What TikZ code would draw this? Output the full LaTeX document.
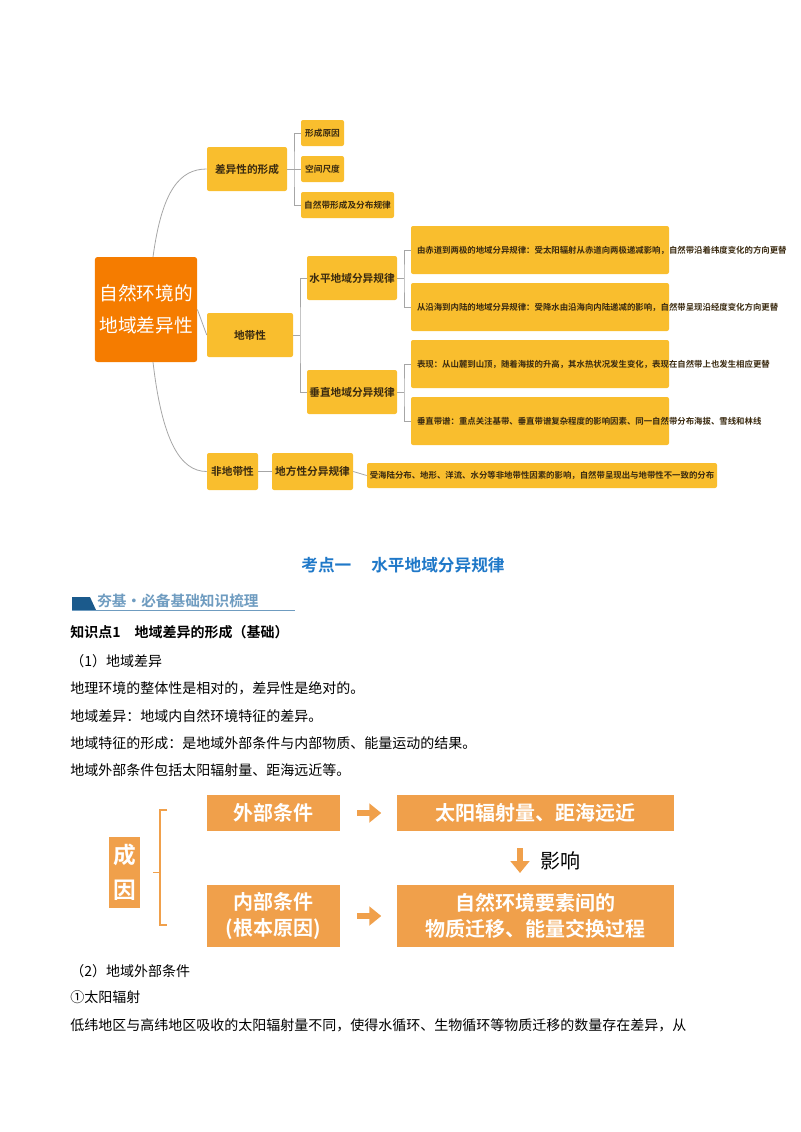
\documentclass[tikz,border=0pt]{standalone}
\usepackage{fontspec}
\setmainfont{Noto Sans CJK SC}
\newfontfamily\cjkb{Noto Sans CJK SC Bold}
\usetikzlibrary{arrows.meta}
\definecolor{yel}{HTML}{F9BE2E}
\definecolor{org}{HTML}{F57C00}
\definecolor{lor}{HTML}{F0A04B}
\definecolor{ttl}{HTML}{1F78C8}
\definecolor{ban}{HTML}{1B5A8C}
\definecolor{bant}{HTML}{6F9CC0}
\definecolor{txt}{HTML}{3A2A10}
\tikzset{
 yb/.style={fill=yel,rounded corners=1.5pt,inner sep=0pt,font=\cjkb\fontsize{8}{9}\selectfont,text=txt},
 ob/.style={fill=lor,inner sep=0pt,font=\cjkb\fontsize{15}{19}\selectfont,text=white,align=center},
 gl/.style={draw=gray!70,line width=0.6pt},
 bt/.style={anchor=west,font=\fontsize{10.5}{12}\selectfont,inner sep=0pt},
}
\begin{document}
\begin{tikzpicture}[x=0.75pt,y=-0.75pt]
\useasboundingbox (0,0) rectangle (800,1132);
% mind map
\node[fill=org,rounded corners=2pt,minimum width=102*0.75pt,minimum height=105*0.75pt,text=white,font=\fontsize{14}{24}\selectfont,align=center] (root) at (146,309.5) {自然环境的\\地域差异性};
\node[yb,minimum width=80*0.75pt,minimum height=44*0.75pt] (cy) at (247,169) {差异性的形成};
\node[yb,minimum width=43*0.75pt,minimum height=26*0.75pt,font=\cjkb\fontsize{6.5}{8}\selectfont] (c1) at (322.5,133) {形成原因};
\node[yb,minimum width=43*0.75pt,minimum height=26*0.75pt,font=\cjkb\fontsize{6.5}{8}\selectfont] (c2) at (322.5,169) {空间尺度};
\node[yb,minimum width=93*0.75pt,minimum height=26*0.75pt,font=\cjkb\fontsize{6.5}{8}\selectfont] (c3) at (347.5,205) {自然带形成及分布规律};
\node[yb,minimum width=86*0.75pt,minimum height=44*0.75pt] (dd) at (250,335) {地带性};
\node[yb,minimum width=90*0.75pt,minimum height=44*0.75pt] (sp) at (352,278) {水平地域分异规律};
\node[yb,minimum width=90*0.75pt,minimum height=44*0.75pt] (cz) at (352,392) {垂直地域分异规律};
\tikzset{lb/.style={yb,minimum width=258*0.75pt,minimum height=48*0.75pt,text width=246*0.75pt,align=left,font=\cjkb\fontsize{6.3}{13}\selectfont}}
\node[lb] (t1) at (540,250) {由赤道到两极的地域分异规律：受太阳辐射从赤道向两极递减影响，自然带沿着纬度变化的方向更替};
\node[lb] (t2) at (540,307) {从沿海到内陆的地域分异规律：受降水由沿海向内陆递减的影响，自然带呈现沿经度变化方向更替};
\node[lb] (t3) at (540,364) {表现：从山麓到山顶，随着海拔的升高，其水热状况发生变化，表现在自然带上也发生相应更替};
\node[lb] (t4) at (540,421) {垂直带谱：重点关注基带、垂直带谱复杂程度的影响因素、同一自然带分布海拔、雪线和林线};
\node[yb,minimum width=51*0.75pt,minimum height=37*0.75pt] (fd) at (232.5,471.5) {非地带性};
\node[yb,minimum width=81*0.75pt,minimum height=37*0.75pt] (df) at (312.5,471.5) {地方性分异规律};
\node[yb,minimum width=350*0.75pt,minimum height=25*0.75pt,font=\cjkb\fontsize{6.3}{8}\selectfont] (lf) at (542,475.5) {受海陆分布、地形、洋流、水分等非地带性因素的影响，自然带呈现出与地带性不一致的分布};
% connectors
\coordinate (rt) at (153,257); \coordinate (rb) at (153,362);
\draw[gl] (rt) .. controls (162,190) and (180,169) .. (cy.west);
\draw[gl] (rb) .. controls (162,440) and (180,471.5) .. (fd.west);
\draw[gl] (root.east) -- (dd.west);
\coordinate (j1) at (294,169);
\draw[gl] (cy.east) -- (j1);
\draw[gl] (c1.west) -| (j1) |- (c3.west); \draw[gl] (j1) -- (c2.west);
\coordinate (j2) at (300,335);
\draw[gl] (dd.east) -- (j2); \draw[gl] (sp.west) -| (j2) |- (cz.west);
\coordinate (j3) at (404,278); \coordinate (j4) at (404,392);
\draw[gl] (sp.east) -- (j3); \draw[gl] (t1.west) -| (j3) |- (t2.west);
\draw[gl] (cz.east) -- (j4); \draw[gl] (t3.west) -| (j4) |- (t4.west);
\draw[gl] (fd.east) -- (df.west); \draw[gl] (df.east) -- (lf.west);
% heading
\node[font=\cjkb\fontsize{12.5}{14}\selectfont,text=ttl] (h) at (403,565) {考点一\hspace{1.2em}水平地域分异规律};
\fill[ban] (72,597) -- (90,597) -- (96,610) -- (72,610) -- cycle;
\draw[bant,line width=0.8pt] (72,610.5) -- (295,610.5);
\node[bt,font=\cjkb\fontsize{11}{12}\selectfont,text=bant] (bn) at (97,601) {夯基·必备基础知识梳理};
\node[bt,font=\cjkb\fontsize{10.5}{12}\selectfont] (k1) at (70,632) {知识点1\hspace{1em}地域差异的形成（基础）};
\node[bt] (p1) at (70,661) {（1）地域差异};
\node[bt] (p2) at (70,688) {地理环境的整体性是相对的，差异性是绝对的。};
\node[bt] (p3) at (70,716) {地域差异：地域内自然环境特征的差异。};
\node[bt] (p4) at (70,743) {地域特征的形成：是地域外部条件与内部物质、能量运动的结果。};
\node[bt] (p5) at (70,770) {地域外部条件包括太阳辐射量、距海远近等。};
% cause diagram
\node[ob,minimum width=31*0.75pt,minimum height=71*0.75pt,font=\cjkb\fontsize{17}{26}\selectfont] (cn) at (124.5,872.5) {成\\因};
\node[ob,minimum width=133*0.75pt,minimum height=36*0.75pt] (wb) at (273.5,813) {外部条件};
\node[ob,minimum width=277*0.75pt,minimum height=36*0.75pt] (ty) at (535.5,813) {太阳辐射量、距海远近};
\node[ob,minimum width=133*0.75pt,minimum height=62*0.75pt] (nb) at (273.5,916) {内部条件\\(根本原因)};
\node[ob,minimum width=277*0.75pt,minimum height=62*0.75pt] (zr) at (535.5,916) {自然环境要素间的\\物质迁移、能量交换过程};
\draw[lor,line width=1.2pt] (153,872.5) -- (160,872.5);
\draw[lor,line width=1.2pt] (167,810) -- (160,810) -- (160,925) -- (167,925);
\draw[lor,line width=5pt,-{Triangle[length=9pt,width=14pt]}] (wb.east)++(17,0) -- ++(24,0);
\draw[lor,line width=5pt,-{Triangle[length=9pt,width=14pt]}] (nb.east)++(17,0) -- ++(24,0);
\draw[lor,line width=5pt,-{Triangle[length=9pt,width=14pt]}] (520,848) -- (520,873);
\node[font=\fontsize{15}{17}\selectfont,anchor=west,inner sep=0pt] (yx) at (540,861) {影响};
\node[bt] (p6) at (70,971) {（2）地域外部条件};
\node[bt] (p7) at (70,997) {①太阳辐射};
\node[bt] (p8) at (70,1025) {低纬地区与高纬地区吸收的太阳辐射量不同，使得水循环、生物循环等物质迁移的数量存在差异，从};
\end{tikzpicture}
\end{document}
